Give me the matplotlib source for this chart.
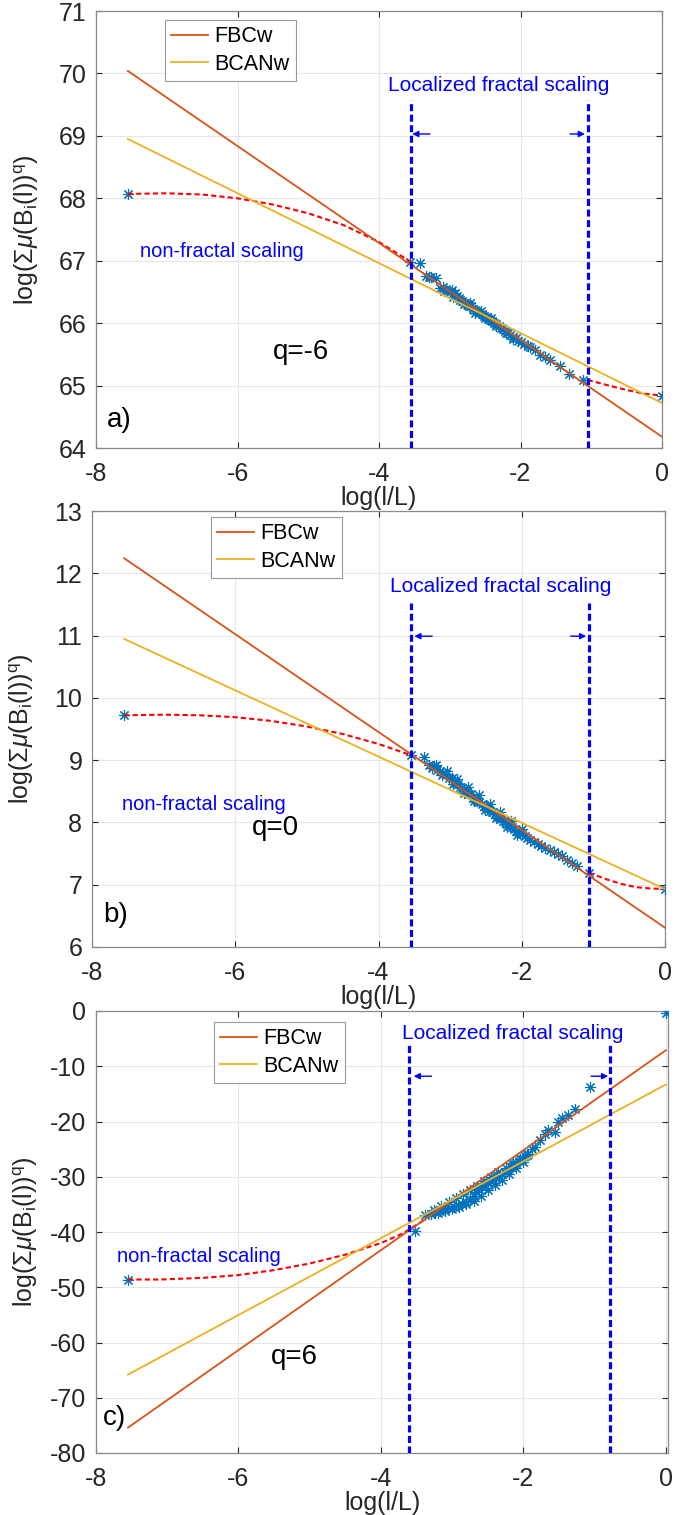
import matplotlib
matplotlib.use('Agg')
import matplotlib.pyplot as plt

plt.rcParams['font.family'] = ['Liberation Sans', 'DejaVu Sans']
plt.rcParams['mathtext.fontset'] = 'custom'
plt.rcParams['mathtext.rm'] = 'Liberation Sans'
plt.rcParams['mathtext.it'] = 'Liberation Sans:italic'
plt.rcParams['mathtext.bf'] = 'Liberation Sans:bold'
plt.rcParams['axes.unicode_minus'] = False

# ---------------- datos ----------------
# panel a) q=-6
pts_a_x = [-7.55, -3.56, -3.42, -3.33, -3.29, -3.26, -3.19, -3.14, -3.10, -3.06, -3.04,
           -3.00, -2.97, -2.94, -2.90, -2.87, -2.85, -2.82, -2.79, -2.76, -2.73, -2.70,
           -2.67, -2.64, -2.61, -2.58, -2.55, -2.52, -2.49, -2.46, -2.43, -2.40, -2.37,
           -2.34, -2.31, -2.28, -2.25, -2.22, -2.18, -2.15, -2.11, -2.07, -2.03, -2.00,
           -1.95, -1.90, -1.87, -1.80, -1.72, -1.66, -1.58, -1.44, -1.31, -1.11, 0.0,
           -3.08, -2.95, -2.80, -2.65, -2.50, -2.35, -2.20, -2.10, -2.92, -2.72, -2.56, -2.42]
pts_a_y = [68.07, 66.98, 66.97, 66.76, 66.74, 66.74, 66.73, 66.56, 66.58, 66.55, 66.52,
           66.50, 66.53, 66.46, 66.44, 66.40, 66.37, 66.36, 66.33, 66.31, 66.28, 66.27,
           66.23, 66.21, 66.19, 66.16, 66.15, 66.12, 66.10, 66.07, 66.05, 66.03, 66.00,
           65.98, 65.95, 65.93, 65.90, 65.87, 65.85, 65.81, 65.78, 65.76, 65.72, 65.70,
           65.67, 65.64, 65.62, 65.57, 65.49, 65.45, 65.41, 65.32, 65.19, 65.09, 64.84,
           66.51, 66.42, 66.30, 66.17, 66.08, 65.96, 65.84, 65.74, 66.48, 66.32, 66.20, 66.09]
curva_a_izq_x = [-7.55, -7.0, -6.5, -6.0, -5.5, -5.0, -4.5, -4.0, -3.55]
curva_a_izq_y = [68.07, 68.08, 68.06, 68.00, 67.90, 67.76, 67.57, 67.30, 66.98]
curva_a_der_x = [-1.05, -0.75, -0.5, -0.25, 0.0]
curva_a_der_y = [65.09, 65.00, 64.93, 64.87, 64.84]
fbc_a_x = [-7.55, 0.0]
fbc_a_y = [70.04, 64.18]
bcan_a_x = [-7.55, 0.0]
bcan_a_y = [68.95, 64.72]
lim_a = [-3.55, -1.05]

# panel b) q=0
pts_b_x = [-7.55, -3.545, -3.37, -3.30, -3.26, -3.22, -3.18, -3.14, -3.10, -3.06, -3.02,
           -2.98, -2.95, -2.92, -2.89, -2.86, -2.83, -2.80, -2.77, -2.74, -2.71, -2.68,
           -2.65, -2.62, -2.59, -2.56, -2.53, -2.50, -2.47, -2.44, -2.41, -2.38, -2.35,
           -2.32, -2.29, -2.26, -2.23, -2.20, -2.17, -2.14, -2.11, -2.08, -2.04, -2.00,
           -1.96, -1.92, -1.88, -1.83, -1.78, -1.73, -1.67, -1.61, -1.55, -1.50, -1.44,
           -1.37, -1.30, -1.23, -1.06, 0.0,
           -3.20, -3.05, -2.90, -2.75, -2.60, -2.45, -2.30, -2.15, -2.00,
           -3.12, -2.96, -2.81, -2.66, -2.51, -2.36, -2.21, -2.06]
pts_b_y = [9.72, 9.08, 9.05, 8.93, 8.88, 8.90, 8.84, 8.83, 8.79, 8.78, 8.72,
           8.71, 8.66, 8.64, 8.62, 8.57, 8.56, 8.52, 8.51, 8.46, 8.45, 8.40,
           8.38, 8.35, 8.32, 8.30, 8.26, 8.25, 8.21, 8.19, 8.16, 8.14, 8.10,
           8.08, 8.05, 8.03, 8.00, 7.98, 7.95, 7.93, 7.90, 7.87, 7.85, 7.82,
           7.79, 7.75, 7.72, 7.69, 7.66, 7.62, 7.59, 7.55, 7.52, 7.50, 7.46,
           7.40, 7.35, 7.30, 7.19, 6.93,
           8.93, 8.82, 8.70, 8.57, 8.44, 8.30, 8.17, 8.03, 7.90,
           8.76, 8.62, 8.48, 8.35, 8.20, 8.07, 7.93, 7.80]
curva_b_izq_x = [-7.55, -7.0, -6.5, -6.0, -5.5, -5.0, -4.5, -4.0, -3.55]
curva_b_izq_y = [9.72, 9.73, 9.72, 9.69, 9.63, 9.54, 9.42, 9.26, 9.08]
curva_b_der_x = [-1.06, -0.8, -0.6, -0.4, -0.2, 0.0]
curva_b_der_y = [7.19, 7.08, 7.01, 6.96, 6.94, 6.93]
fbc_b_x = [-7.55, 0.0]
fbc_b_y = [12.24, 6.31]
bcan_b_x = [-7.55, 0.0]
bcan_b_y = [10.945, 6.93]
lim_b = [-3.545, -1.06]

# panel c) q=6
pts_c_x = [-7.55, -3.52, -3.375, -3.30, -3.235, -3.17, -3.10, -3.04, -2.98, -2.92, -2.86,
           -2.80, -2.75, -2.70, -2.66, -2.62, -2.58, -2.54, -2.50, -2.46, -2.42, -2.38,
           -2.34, -2.30, -2.26, -2.22, -2.18, -2.14, -2.10, -2.06, -2.02, -1.98, -1.93,
           -1.88, -1.84, -1.77, -1.70, -1.65, -1.56, -1.51, -1.46, -1.37, -1.28, -1.07, 0.0,
           -3.30, -3.20, -3.10, -3.00, -2.90, -2.80, -2.70, -2.60, -2.50, -2.40, -2.30,
           -2.20, -2.10, -2.00,
           -3.25, -3.15, -3.05, -2.95, -2.85, -2.75, -2.65, -2.55, -2.45, -2.35, -2.25,
           -2.15, -2.05, -1.95]
pts_c_y = [-48.6, -39.8, -36.96, -36.7, -36.4, -36.2, -35.9, -35.7, -35.5, -35.2, -34.9,
           -34.5, -34.0, -33.4, -32.8, -32.3, -31.9, -31.5, -31.2, -30.8, -30.5, -30.1,
           -29.8, -29.5, -29.1, -28.7, -28.3, -27.9, -27.5, -27.1, -26.7, -26.3, -25.8,
           -25.0, -24.6, -23.4, -22.2, -21.6, -21.9, -20.0, -19.4, -18.8, -17.8, -13.7, -0.4,
           -36.8, -36.5, -36.2, -35.9, -35.5, -35.0, -34.3, -33.4, -32.4, -31.5, -30.5,
           -29.5, -28.5, -27.3,
           -36.0, -35.3, -34.6, -33.9, -33.2, -32.4, -31.6, -30.8, -30.0, -29.2, -28.4,
           -27.6, -26.8, -26.0]
curva_c_izq_x = [-7.55, -7.1, -6.5, -6.0, -5.5, -5.0, -4.5, -4.0, -3.7, -3.4]
curva_c_izq_y = [-48.6, -48.6, -48.3, -47.8, -46.9, -45.7, -44.1, -42.0, -40.3, -37.9]
fbc_c_x = [-7.55, 0.0]
fbc_c_y = [-75.4, -7.1]
bcan_c_x = [-7.55, 0.0]
bcan_c_y = [-65.8, -13.3]
lim_c = [-3.61, -0.78]

azul_mat = '#0072BD'
naranja = '#D95319'
amarillo = '#EDB120'

fig = plt.figure(figsize=(6.75, 15.15), dpi=100)

ylabel = r'log($\Sigma\mu$(B$_\mathrm{i}$(l))$^\mathrm{q}$)'


def panel(pos, pts_x, pts_y, curvas, fbc, bcan, lims, xlim, ylim, yticks,
          ytop, yflecha, flechas, textos, leg_xy):
    ax = fig.add_axes(pos)
    ax.plot(pts_x, pts_y, linestyle='none', marker=(8, 2, 0), markersize=8,
            markeredgewidth=0.8, color=azul_mat, zorder=3)
    for cx, cy in curvas:
        ax.plot(cx, cy, color='red', linestyle=(0, (2.5, 1.5)), lw=1.5, zorder=4)
    l1, = ax.plot(fbc[0], fbc[1], color=naranja, lw=1.3, zorder=5)
    l2, = ax.plot(bcan[0], bcan[1], color=amarillo, lw=1.3, zorder=5)
    for xv in lims:
        ax.plot([xv, xv], [ylim[0], ytop], color='blue', linestyle=(0, (2.2, 1.1)),
                lw=2.3, zorder=6)
    for (xa, xb) in flechas:
        ax.annotate('', xy=(xb, yflecha), xytext=(xa, yflecha),
                    arrowprops=dict(arrowstyle='-|>', color='blue', lw=1.0,
                                    mutation_scale=9, shrinkA=0, shrinkB=0))
    for (tx, ty, s, sz, col) in textos:
        ax.text(tx, ty, s, fontsize=sz, color=col, ha='left', va='center')
    ax.set_xlim(xlim)
    ax.set_ylim(ylim)
    ax.set_xticks([-8, -6, -4, -2, 0])
    ax.set_yticks(yticks)
    ax.grid(True, color='#e6e6e6', lw=0.8)
    ax.set_axisbelow(True)
    ax.tick_params(direction='in', length=4, width=0.8, top=True, right=True,
                   labelsize=18, colors='#262626', pad=7)
    ax.tick_params(axis='x', pad=10)
    for sp in ax.spines.values():
        sp.set_color('#8a8a8a')
        sp.set_linewidth(0.9)
    ax.set_xlabel('log(l/L)', fontsize=18, color='#262626', labelpad=0)
    ax.set_ylabel(ylabel, fontsize=18, color='#262626')
    ax.yaxis.set_label_coords(-0.098, 0.5)
    leg = ax.legend([l1, l2], ['FBCw', 'BCANw'], loc='upper left',
                    bbox_to_anchor=(leg_xy[0] / 675, 1 - leg_xy[1] / 1515),
                    bbox_transform=fig.transFigure, fontsize=15.5, frameon=True,
                    fancybox=False, edgecolor='#9a9a9a', framealpha=1,
                    handlelength=1.7, handletextpad=0.3, borderpad=0.3,
                    labelspacing=0.3, borderaxespad=0)
    leg.get_frame().set_linewidth(0.8)
    return ax


panel([96 / 675, 1 - 448 / 1515, 566 / 675, 437 / 1515],
      pts_a_x, pts_a_y,
      [(curva_a_izq_x, curva_a_izq_y), (curva_a_der_x, curva_a_der_y)],
      (fbc_a_x, fbc_a_y), (bcan_a_x, bcan_a_y), lim_a,
      [-8, 0], [64, 71], range(64, 72), 69.57, 69.03,
      [(-3.28, -3.53), (-1.30, -1.09)],
      [(-3.87, 69.80, 'Localized fractal scaling', 15, 'blue'),
       (-7.38, 67.14, 'non-fractal scaling', 14.5, 'blue'),
       (-5.50, 65.54, 'q=-6', 20, 'black'),
       (-7.84, 64.45, 'a)', 20, 'black')],
      (165, 20))

panel([92 / 675, 1 - 947 / 1515, 573 / 675, 436 / 1515],
      pts_b_x, pts_b_y,
      [(curva_b_izq_x, curva_b_izq_y), (curva_b_der_x, curva_b_der_y)],
      (fbc_b_x, fbc_b_y), (bcan_b_x, bcan_b_y), lim_b,
      [-8, 0], [6, 13], range(6, 14), 11.52, 10.99,
      [(-3.25, -3.50), (-1.32, -1.10)],
      [(-3.84, 11.78, 'Localized fractal scaling', 15, 'blue'),
       (-7.58, 8.28, 'non-fractal scaling', 14.5, 'blue'),
       (-5.77, 7.91, 'q=0', 20, 'black'),
       (-7.85, 6.52, 'b)', 20, 'black')],
      (211, 517))

panel([96 / 675, 1 - 1453 / 1515, 572 / 675, 442 / 1515],
      pts_c_x, pts_c_y,
      [(curva_c_izq_x, curva_c_izq_y)],
      (fbc_c_x, fbc_c_y), (bcan_c_x, bcan_c_y), lim_c,
      [-8, 0.03], [-80, 0], range(-80, 1, 10), -5.8, -11.8,
      [(-3.29, -3.54), (-1.05, -0.81)],
      [(-3.71, -4.0, 'Localized fractal scaling', 15, 'blue'),
       (-7.71, -44.4, 'non-fractal scaling', 14.5, 'blue'),
       (-5.55, -62.7, 'q=6', 20, 'black'),
       (-7.90, -73.7, 'c)', 20, 'black')],
      (214, 1022))

fig.savefig('out.png', dpi=100)
